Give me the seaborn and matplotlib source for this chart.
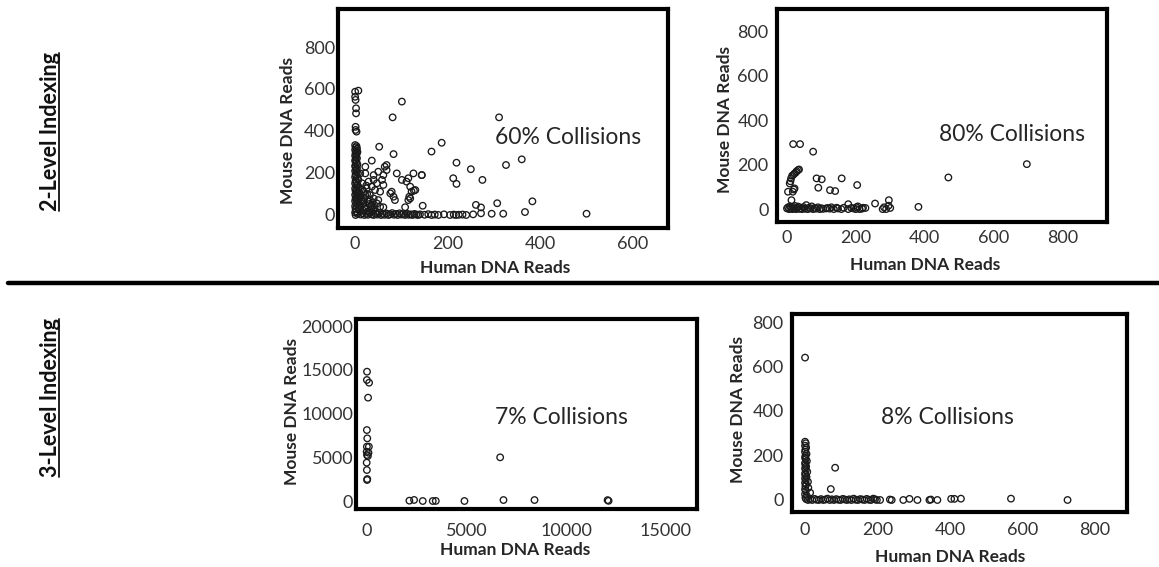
import pandas as pd
import matplotlib.pyplot as plt
from matplotlib.lines import Line2D
import seaborn as sns

# ── Data (human reads, mouse reads per barcode) ───────────────────────────────
# 2-level indexing, left panel (60% collisions)
p1_human = [0, 7, 0, 1, 2, 2, 1, 1, 3,
            0, 3, 1, 4, 0, 2, 5, 1, 3, 0, 2, 4, 1, 0, 3, 2, 5, 0, 1, 4, 2, 0, 3, 6,
            1, 2, 0, 4, 7, 1, 3, 0, 5, 2, 8, 0, 3, 1, 6, 2, 0, 4, 9, 1, 3, 0, 6, 2,
            10, 0, 4, 1, 8, 2, 0, 5, 1,
            12, 16, 20, 24, 28, 32, 36, 40, 44, 48, 52, 56, 60, 64, 68, 72, 76, 80,
            84, 88, 92, 96, 100, 104, 108, 112, 116, 120, 124, 128, 132, 136, 140,
            150, 158, 165, 172, 180, 192, 205, 213, 218, 224, 232, 240, 255, 272,
            295, 320, 367, 500,
            146, 261, 272, 307, 383,
            101, 81, 311, 187, 165, 52, 83, 36, 360, 326, 219, 250, 212, 219, 275, 144,
            22, 11, 22, 40, 50, 68, 68, 61, 58, 47, 36, 25, 15, 18, 11, 32, 40, 54,
            61, 90, 126, 115, 111, 101, 144, 79, 83, 86, 76, 119, 122, 119, 115, 130,
            108, 61, 18, 29, 36, 47, 54, 25, 40, 15, 32, 50, 22, 43, 29, 40, 7,
            117, 127, 64,
            8, 12, 18, 22, 27, 30, 35, 14, 20, 26, 10, 33, 42, 45, 38, 6, 16, 24]
p1_mouse = [587, 592, 563, 548, 508, 484, 420, 405, 397,
            333, 328, 322, 316, 310, 305, 300, 294, 288, 282, 276, 270, 264, 258, 252,
            246, 240, 234, 228, 222, 216, 210, 204, 198, 192, 186, 180, 174, 168, 162,
            156, 150, 144, 138, 132, 126, 120, 114, 108, 102, 96, 90, 84, 78, 72, 66,
            60, 54, 48, 42, 36, 30, 24, 18, 12, 6, 0,
            2, 8, 0, 5, 1, 9, 3, 0, 6, 2, 10, 0, 4, 1, 7, 0, 3, 9, 1, 5, 0, 8, 2, 4,
            0, 6, 1, 3, 0, 5, 2, 0, 3,
            1, 4, 0, 2, 0, 3, 0, 2, 0, 1, 2, 0, 3, 8, 6, 6, 14, 6,
            44, 48, 36, 56, 65,
            540, 465, 465, 344, 302, 325, 290, 259, 265, 238, 249, 218, 175, 148, 167, 190,
            230, 198, 198, 190, 206, 238, 214, 190, 167, 151, 135, 127, 151, 111, 87,
            95, 79, 111, 143, 198, 198, 175, 159, 167, 190, 111, 87, 71, 103, 135, 111,
            79, 71, 119, 37, 37, 55, 63, 47, 55, 39, 31, 24, 71, 71, 71, 95, 119, 159,
            167, 119, 87, 116, 230,
            30, 45, 20, 38, 15, 52, 28, 65, 80, 100, 105, 40, 35, 15, 60, 75, 120, 140]

# 2-level indexing, right panel (80% collisions)
p2_human = [697, 469, 18, 38, 76, 86, 101, 159, 91, 125, 140, 204, 178, 256, 296, 382,
            32, 28, 22, 19, 26, 12, 8, 3, 17, 22, 13, 35, 15, 10, 20,
            0, 3, 6, 9, 12, 15, 18, 21, 24, 27, 30, 33, 36, 40, 44, 48, 52, 56, 60,
            64, 68, 72, 76, 80, 85, 90, 95, 100, 105,
            114, 118, 124, 129, 136, 144, 148, 158, 165, 178, 187, 193, 200, 202, 206,
            211, 218, 221, 228, 278, 282, 288, 295, 300]
p2_mouse = [202, 142, 292, 292, 258, 138, 134, 138, 96, 85, 81, 108, 22, 25, 40, 10,
            175, 170, 160, 155, 165, 138, 115, 78, 78, 93, 40, 178, 150, 125, 88,
            3, 8, 0, 12, 5, 0, 9, 2, 14, 0, 6, 11, 1, 4, 0, 9, 2, 18, 0,
            6, 3, 12, 0, 5, 2, 8, 0, 4, 1,
            3, 5, 2, 8, 0, 6, 3, 0, 6, 0, 5, 3, 0, 8, 12,
            0, 2, 6, 5, 0, 8, 0, 15, 5]

# 3-level indexing, left panel (7% collisions)
p3_human = [17, 10, 120, 70, 10, 30, 10, 110, 0, 90, 15, 60, 0, 10, 30, 20,
            2140, 2375, 2810, 3311, 3462, 4900, 6856, 8411, 12074, 12124,
            6690]
p3_mouse = [14780, 13830, 13520, 11810, 8110, 7160, 6210, 6210, 5630, 5520, 5260,
            5140, 4380, 3540, 2510, 2400,
            40, 120, 0, 0, 10, 0, 110, 110, 100, 20,
            4990]

# 3-level indexing, right panel (8% collisions)
p4_human = [0,
            0, 2, 0, 3, 1, 0, 4, 1, 0, 2, 5, 0, 1, 3, 0, 2, 6, 0, 1, 4, 0, 2, 8, 0,
            3, 1, 9, 0, 14, 2, 0, 5, 1, 3,
            71, 83,
            8, 14, 20, 26, 32, 38, 44, 50, 56, 62, 68, 74, 80, 86, 92, 98, 104, 110,
            116, 122, 128, 134, 140, 146, 152, 158, 164, 170, 176, 182, 188, 193, 198,
            207, 234, 239, 271, 288, 310, 343, 347, 365, 403, 412, 430, 568, 724]
p4_mouse = [640,
            262, 255, 244, 236, 226, 217, 207, 198, 190, 184, 175, 166, 158, 150, 142,
            134, 127, 119, 112, 104, 97, 89, 82, 77, 70, 62, 55, 48, 33, 40, 26, 18,
            10, 4,
            49, 145,
            0, 3, 0, 5, 1, 0, 4, 0, 2, 6, 0, 3, 0, 4, 1, 0, 5, 2, 0, 3, 0, 6, 1, 0,
            4, 2, 0, 5, 1, 0, 6, 3, 0,
            0, 2, 0, 0, 5, 0, 0, 2, 0, 5, 5, 6, 6, 0]

notes = ['60% Collisions', '80% Collisions', '7% Collisions', '8% Collisions']
row_labels = ['2-Level Indexing', '3-Level Indexing']

# ── Style ─────────────────────────────────────────────────────────────────────
sns.set_style('white')
plt.rcParams['font.family'] = ['Lato', 'DejaVu Sans']

W, H = 1159, 567
fig = plt.figure(figsize=(W / 100, H / 100), dpi=100)

# pixel boxes (left, top, right, bottom) and axis settings per panel
layout = [
    dict(box=(338, 9, 668, 228), xlim=(-37, 676), ylim=(-62, 981),
         xticks=[0, 200, 400, 600], yticks=[0, 200, 400, 600, 800],
         ypad=2, xpad=6, ylab=(-0.152, 0.443), xlab=(0.476, -0.183), note_xy=(460, 367)),
    dict(box=(777, 9, 1107, 222), xlim=(-29, 930), ylim=(-58, 899),
         xticks=[0, 200, 400, 600, 800], yticks=[0, 200, 400, 600, 800],
         ypad=6, xpad=6, ylab=(-0.158, 0.479), xlab=(0.448, -0.202), note_xy=(654, 333)),
    dict(box=(356, 319, 697, 509), xlim=(-535, 16555), ylim=(-914, 20800),
         xticks=[0, 5000, 10000, 15000], yticks=[0, 5000, 10000, 15000, 20000],
         ypad=2, xpad=10, ylab=(-0.188, 0.511), xlab=(0.466, -0.218), note_xy=(9750, 9490)),
    dict(box=(792, 314, 1127, 512), xlim=(-36, 888), ylim=(-54, 836),
         xticks=[0, 200, 400, 600, 800], yticks=[0, 200, 400, 600, 800],
         ypad=6, xpad=7, ylab=(-0.161, 0.52), xlab=(0.472, -0.227), note_xy=(392, 369)),
]
series = [(p1_human, p1_mouse), (p2_human, p2_mouse),
          (p3_human, p3_mouse), (p4_human, p4_mouse)]

for spec, (hx, my), note in zip(layout, series, notes):
    l, t, r, b = spec['box']
    ax = fig.add_axes([l / W, 1 - b / H, (r - l) / W, (b - t) / H])
    df = pd.DataFrame({'human': hx, 'mouse': my})
    sns.scatterplot(data=df, x='human', y='mouse', ax=ax, marker='o', s=22,
                    facecolor='none', edgecolor='#1a1a1a', linewidth=0.95,
                    legend=False)
    ax.set_xlim(spec['xlim'])
    ax.set_ylim(spec['ylim'])
    ax.set_xticks(spec['xticks'])
    ax.set_yticks(spec['yticks'])
    ax.tick_params(axis='both', length=0, labelsize=13, labelcolor='#333333')
    ax.tick_params(axis='y', pad=spec['ypad'])
    ax.tick_params(axis='x', pad=spec['xpad'])
    for sp in ax.spines.values():
        sp.set_visible(True)
        sp.set_color('black')
        sp.set_linewidth(3)
    ax.set_xlabel('Human DNA Reads', fontsize=12.5, fontweight='bold',
                  color='#262626', va='center')
    ax.set_ylabel('Mouse DNA Reads', fontsize=12.5, fontweight='bold',
                  color='#262626', va='center')
    ax.xaxis.set_label_coords(*spec['xlab'])
    ax.yaxis.set_label_coords(*spec['ylab'])
    ax.text(*spec['note_xy'], note, fontsize=16.5, color='#262626',
            ha='center', va='center')

# separator between the two rows
fig.add_artist(Line2D([8 / W, 1], [1 - 283 / H, 1 - 283 / H],
                      color='black', lw=3.2))

# row labels, rotated and underlined
row_texts = []
for label, yc in zip(row_labels, [132, 398]):
    txt = fig.text(51 / W, 1 - yc / H, label, rotation=90, fontsize=15.5,
                   fontweight='bold', color='#111111',
                   ha='center', va='center')
    row_texts.append(txt)

fig.canvas.draw()
renderer = fig.canvas.get_renderer()
for txt in row_texts:
    bb = txt.get_window_extent(renderer)
    ux = bb.x1 - 0.12 * (bb.x1 - bb.x0)
    fig.add_artist(Line2D([ux / W, ux / W], [bb.y0 / H, bb.y1 / H],
                          color='#111111', lw=1.3))

fig.savefig('out.png', dpi=100)
